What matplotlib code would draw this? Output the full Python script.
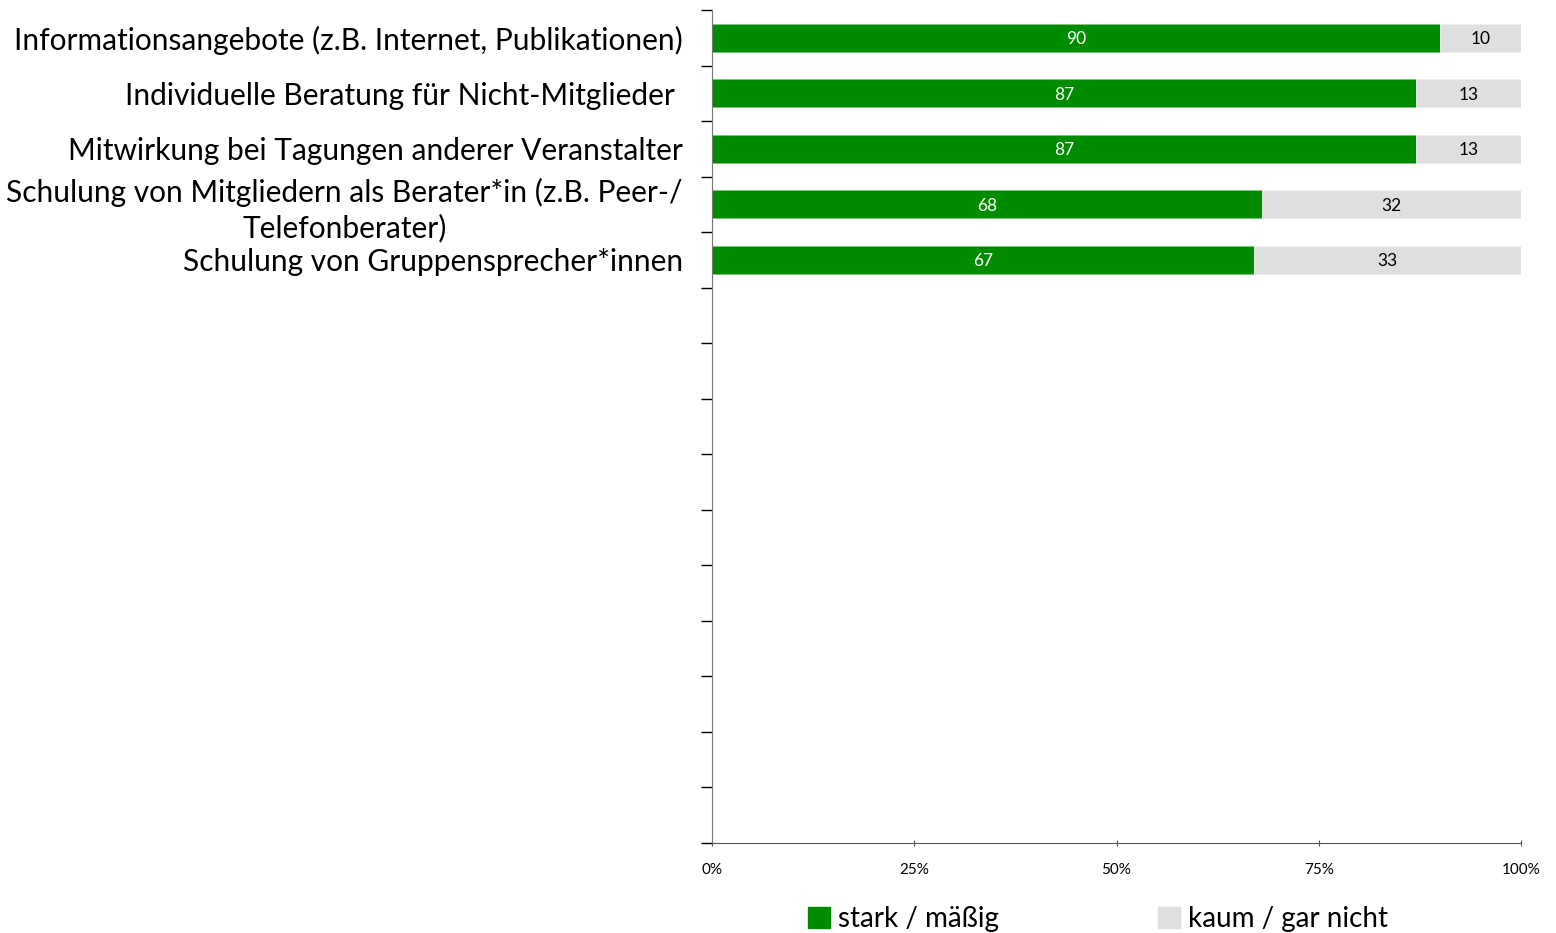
import matplotlib.pyplot as plt
import numpy as np
from matplotlib.patches import Patch

plt.rcParams['font.family'] = ['Lato', 'DejaVu Sans']

categories = ["Informationsangebote (z.B. Internet, Publikationen)",
              "Individuelle Beratung für Nicht-Mitglieder ",
              "Mitwirkung bei Tagungen anderer Veranstalter",
              "Schulung von Mitgliedern als Berater*in (z.B. Peer-/\nTelefonberater)",
              "Schulung von Gruppensprecher*innen"]
stark = [90, 87, 87, 68, 67]
kaum = [10, 13, 13, 32, 33]
n_slots = 15  # 5 belegte Kategorien + 10 leere Zeilen
series_names = ["stark / mäßig", "kaum / gar nicht"]

green = '#008c00'
grey = '#dfdfdf'

fig = plt.figure(figsize=(15.56, 9.33), dpi=100)
ax = fig.add_axes([712 / 1556, 1 - 843 / 933, 809 / 1556, 833 / 933])

y = np.arange(len(categories))
ax.barh(y, stark, height=0.5, color=green, edgecolor='#7fc47f', linewidth=0.6)
ax.barh(y, kaum, left=stark, height=0.5, color=grey, edgecolor='#f0f0f0', linewidth=0.6)

for i in range(len(categories)):
    ax.text(stark[i] / 2, y[i], str(stark[i]), ha='center', va='center_baseline',
            color='white', fontsize=12.5)
    ax.text(stark[i] + kaum[i] / 2, y[i], str(kaum[i]), ha='center', va='center_baseline',
            color='black', fontsize=12.5)

ax.set_xlim(0, 100)
ax.set_ylim(n_slots - 0.5, -0.5)

ax.set_yticks(y)
ax.set_yticklabels(categories, fontsize=21.5)
for t in ax.get_yticklabels():
    t.set_multialignment('center')
    t.set_linespacing(1.3)
ax.tick_params(axis='y', which='major', length=0, pad=21)
ax.set_yticks(np.arange(n_slots + 1) - 0.5, minor=True)
ax.tick_params(axis='y', which='minor', length=8, color='black', width=1)

ax.set_xticks([0, 25, 50, 75, 100])
ax.set_xticklabels(['0%', '25%', '50%', '75%', '100%'], fontsize=11)
ax.tick_params(axis='x', direction='inout', length=5, pad=12, color='#555555')

for s in ['top', 'right']:
    ax.spines[s].set_visible(False)
ax.spines['left'].set_color('#777777')
ax.spines['bottom'].set_color('#555555')

handles = [Patch(color=green), Patch(color=grey)]
fig.legend(handles, series_names, loc='center', bbox_to_anchor=(1098 / 1556, 1 - 919 / 933),
           ncol=2, frameon=False, fontsize=20, handlelength=0.8, handleheight=0.8,
           handletextpad=0.3, columnspacing=5.7)

fig.savefig('out.png', dpi=100)
